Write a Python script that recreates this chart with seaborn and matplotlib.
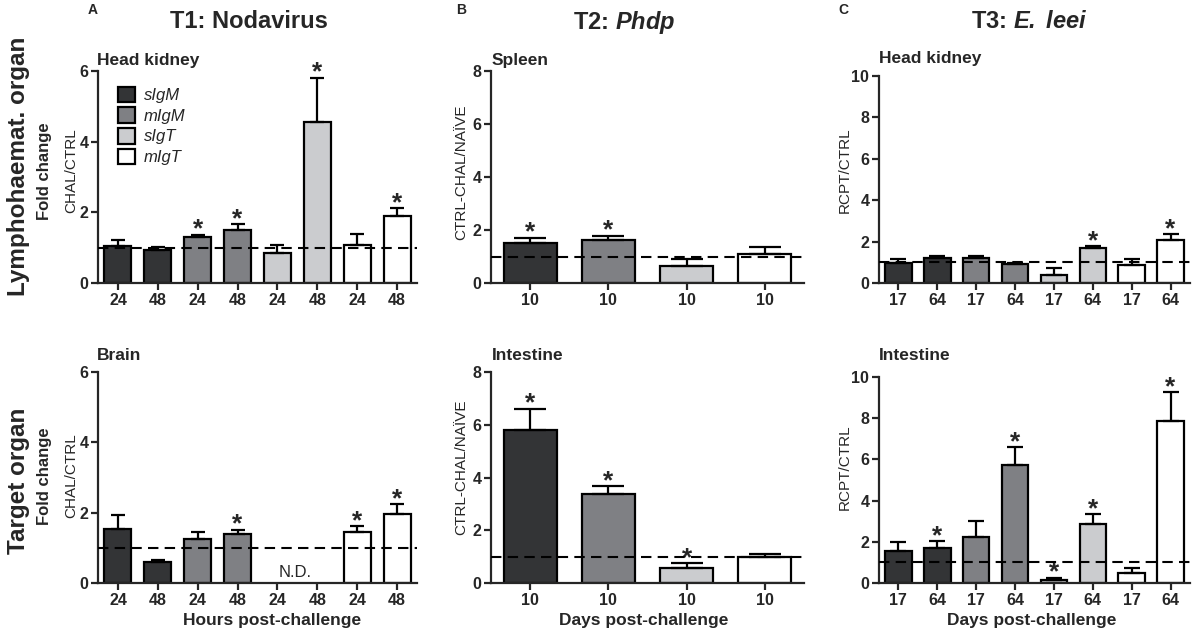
import numpy as np
import pandas as pd
import matplotlib
matplotlib.use("Agg")
import matplotlib.pyplot as plt
import seaborn as sns
from matplotlib.patches import Patch

# ---------------- data ----------------
genes = ["sIgM", "mIgM", "sIgT", "mIgT"]
gene_labels = ["sIgM", "mIgM", "sIgT", "mIgT"]
colors = ["#333436", "#7f8084", "#cbcccf", "#ffffff"]

t1_times = ["24", "48"]
t2_times = ["10"]
t3_times = ["17", "64"]

# T1 Nodavirus - head kidney
t1_hk_mean = [1.05, 0.92, 1.29, 1.49, 0.86, 4.55, 1.07, 1.89]
t1_hk_sem = [0.18, 0.10, 0.08, 0.17, 0.22, 1.26, 0.31, 0.24]
t1_hk_sig = [0, 0, 1, 1, 0, 1, 0, 1]
# T1 Nodavirus - brain (sIgT not detected)
t1_br_mean = [1.54, 0.60, 1.26, 1.40, np.nan, np.nan, 1.45, 1.95]
t1_br_sem = [0.40, 0.06, 0.20, 0.12, np.nan, np.nan, 0.17, 0.30]
t1_br_sig = [0, 0, 0, 1, 0, 0, 1, 1]

# T2 Phdp - spleen / intestine
t2_sp_mean = [1.51, 1.62, 0.64, 1.08]
t2_sp_sem = [0.20, 0.17, 0.25, 0.27]
t2_sp_sig = [1, 1, 0, 0]
t2_in_mean = [5.79, 3.39, 0.58, 0.99]
t2_in_sem = [0.82, 0.29, 0.18, 0.12]
t2_in_sig = [1, 1, 1, 0]

# T3 E. leei - head kidney / intestine
t3_hk_mean = [0.98, 1.23, 1.23, 0.94, 0.37, 1.69, 0.85, 2.06]
t3_hk_sem = [0.17, 0.09, 0.08, 0.04, 0.36, 0.10, 0.33, 0.29]
t3_hk_sig = [0, 0, 0, 0, 0, 1, 0, 1]
t3_in_mean = [1.54, 1.72, 2.25, 5.73, 0.16, 2.88, 0.49, 7.88]
t3_in_sem = [0.47, 0.32, 0.76, 0.86, 0.10, 0.47, 0.22, 1.39]
t3_in_sig = [0, 1, 0, 1, 1, 1, 0, 1]

# ---------------- style ----------------
sns.set_theme(style="ticks")
plt.rcParams["font.family"] = ["Liberation Sans", "DejaVu Sans"]
plt.rcParams["axes.linewidth"] = 1.6
plt.rcParams["mathtext.fontset"] = "custom"
plt.rcParams["mathtext.rm"] = "Liberation Sans"
plt.rcParams["mathtext.bf"] = "Liberation Sans:bold"
plt.rcParams["mathtext.it"] = "Liberation Sans:italic"
plt.rcParams["mathtext.bfit"] = "Liberation Sans:italic:bold"

W, H = 1192, 634
fig = plt.figure(figsize=(W / 100, H / 100), dpi=100)


def px_axes(x0, x1, ytop, ybot):
    return fig.add_axes([x0 / W, 1 - ybot / H, (x1 - x0) / W, (ybot - ytop) / H])


def panel(ax, times, mean, sem, sig, ymax, yticks, capsize, nd=None):
    ids, gcol = [], []
    for g in genes:
        for t in times:
            ids.append(f"{g} {t}")
            gcol.append(g)
    df = pd.DataFrame({"bar": ids, "gene": gcol, "value": mean})
    sns.barplot(data=df, x="bar", y="value", hue="gene", order=ids,
                hue_order=genes, palette=colors, dodge=False, width=0.68,
                edgecolor="black", linewidth=1.6, errorbar=None,
                legend=False, saturation=1, ax=ax)
    xs = np.arange(len(ids))
    m = np.array(mean, dtype=float)
    s = np.array(sem, dtype=float)
    ax.errorbar(xs, m, yerr=[np.zeros_like(s), s], fmt="none", ecolor="black",
                elinewidth=1.6, capsize=capsize, capthick=1.6, zorder=3)
    ax.set_xlim(-0.5, len(ids) - 0.5)
    ax.axhline(1, color="black", lw=1.5, ls=(0, (5, 3)), zorder=4)
    for x, mv, sv, sg in zip(xs, m, s, sig):
        if sg:
            ax.annotate("*", (x, mv + sv), xytext=(0, -1.5), textcoords="offset points",
                        ha="center", va="baseline", fontsize=19, fontweight="bold")
    if nd is not None:
        ax.text(nd, 0.08, "N.D.", ha="center", va="bottom", fontsize=12)
    ax.set_ylim(0, ymax)
    ax.set_yticks(yticks)
    ax.set_xticks(xs)
    ax.set_xticklabels(times * 4)
    ax.set_xlabel("")
    ax.set_ylabel("")
    sns.despine(ax=ax)
    ax.tick_params(axis="both", direction="out", length=5, width=1.6,
                   labelsize=11.5, pad=2)
    for lab in ax.get_xticklabels() + ax.get_yticklabels():
        lab.set_fontweight("bold")


# axes
axA1 = px_axes(98, 417, 71, 283)
axA2 = px_axes(98, 417, 372, 583)
axB1 = px_axes(491, 804, 71, 283)
axB2 = px_axes(491, 804, 372, 583)
axC1 = px_axes(879, 1190, 76, 283)
axC2 = px_axes(879, 1190, 377, 583)

panel(axA1, t1_times, t1_hk_mean, t1_hk_sem, t1_hk_sig, 6, [0, 2, 4, 6], 5)
panel(axA2, t1_times, t1_br_mean, t1_br_sem, t1_br_sig, 6, [0, 2, 4, 6], 5, nd=4.45)
panel(axB1, t2_times, t2_sp_mean, t2_sp_sem, t2_sp_sig, 8, [0, 2, 4, 6, 8], 11.5)
panel(axB2, t2_times, t2_in_mean, t2_in_sem, t2_in_sig, 8, [0, 2, 4, 6, 8], 11.5)
panel(axC1, t3_times, t3_hk_mean, t3_hk_sem, t3_hk_sig, 10, [0, 2, 4, 6, 8, 10], 6)
panel(axC2, t3_times, t3_in_mean, t3_in_sem, t3_in_sig, 10, [0, 2, 4, 6, 8, 10], 6)

# legend
handles = [Patch(facecolor=c, edgecolor="black", linewidth=1.6) for c in colors]
leg = axA1.legend(handles, gene_labels, loc="upper left",
                  bbox_to_anchor=(0.062, 0.925), frameon=False,
                  borderaxespad=0, borderpad=0, handlelength=1.05,
                  handleheight=1.05, labelspacing=0.25, handletextpad=0.5,
                  prop={"style": "italic", "size": 12})


def ftext(x, y, s, **kw):
    fig.text(x / W, 1 - y / H, s, **kw)


# panel letters and titles
ftext(93, 10, "A", fontsize=10, fontweight="bold", ha="center", va="center")
ftext(461, 10, "B", fontsize=10, fontweight="bold", ha="center", va="center")
ftext(843, 10, "C", fontsize=10, fontweight="bold", ha="center", va="center")
ftext(249, 22, "T1: Nodavirus", fontsize=17, fontweight="bold", ha="center", va="center")
ftext(624, 22, r"T2: $\mathbfit{Phdp}$", fontsize=17, fontweight="bold", ha="center", va="center")
ftext(1029, 22, r"T3: $\mathbfit{E.}$ $\mathbfit{leei}$", fontsize=17, fontweight="bold", ha="center", va="center")

# organ subtitles
for x, y, s in [(97, 60, "Head kidney"), (97, 355, "Brain"),
                (492, 60, "Spleen"), (492, 355, "Intestine"),
                (879, 58, "Head kidney"), (879, 355, "Intestine")]:
    ftext(x, y, s, fontsize=12.5, fontweight="bold", ha="left", va="center")

# left row labels
ftext(19, 166, "Lymphohaemat. organ", fontsize=17.5, fontweight="bold",
      rotation=90, ha="center", va="center")
ftext(19, 481, "Target organ", fontsize=17.5, fontweight="bold",
      rotation=90, ha="center", va="center")
for yc in (171, 476):
    ftext(44, yc, "Fold change", fontsize=12, fontweight="bold",
          rotation=90, ha="center", va="center")
    ftext(71, yc, "CHAL/CTRL", fontsize=11, rotation=90, ha="center", va="center")

# y labels B and C
for yc in (172, 467):
    ftext(461, yc, "CTRL-CHAL/NAÏVE", fontsize=11, rotation=90, ha="center", va="center")
for yc in (170, 467):
    ftext(845, yc, "RCPT/CTRL", fontsize=11, rotation=90, ha="center", va="center")

# x labels
ftext(272, 621, "Hours post-challenge", fontsize=12.5, fontweight="bold", ha="center", va="center")
ftext(644, 621, "Days post-challenge", fontsize=12.5, fontweight="bold", ha="center", va="center")
ftext(1032, 621, "Days post-challenge", fontsize=12.5, fontweight="bold", ha="center", va="center")

fig.savefig("out.png", dpi=100)
